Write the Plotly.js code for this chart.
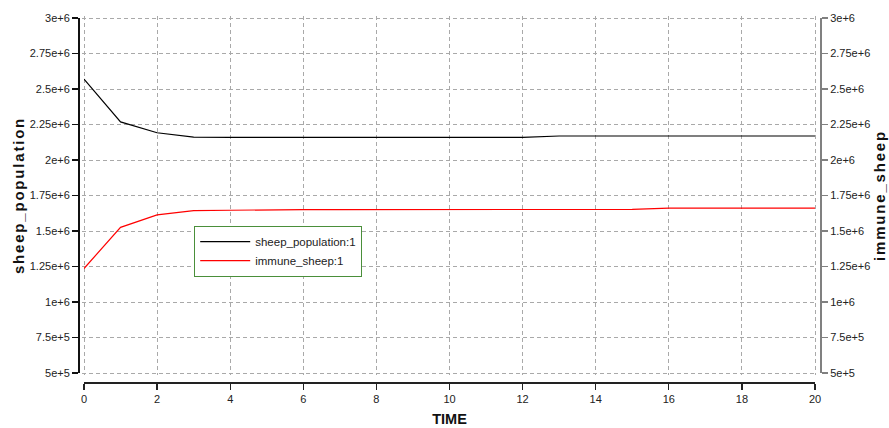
<!DOCTYPE html>
<html><head><meta charset="utf-8">
<script src="https://cdn.plot.ly/plotly-3.0.1.min.js"></script>
<style>
html,body{margin:0;padding:0;background:#fff;}
#chart{width:889px;height:428px;}
.y2title,.y3title{letter-spacing:1.8px;}
</style></head><body><div id="chart"></div>
<script>
const time = [0,1,2,3,4,5,6,7,8,9,10,11,12,13,14,15,16,17,18,19,20];
const sheepPopulation = [2570000,2268000,2192000,2161000,2160000,2160000,2160000,2160000,2160000,2160000,2160000,2160000,2160000,2169000,2169000,2169000,2169000,2169000,2169000,2169000,2169000];
const immuneSheep = [1236000,1526000,1613000,1643000,1646000,1650000,1651000,1651000,1651000,1651000,1651000,1651000,1651000,1652000,1652000,1652000,1661000,1661000,1661000,1661000,1661000];
const xTickVals = [0,2,4,6,8,10,12,14,16,18,20];
const yTickVals = [500000,750000,1000000,1250000,1500000,1750000,2000000,2250000,2500000,2750000,3000000];
const yTickText = ['5e+5','7.5e+5','1e+6','1.25e+6','1.5e+6','1.75e+6','2e+6','2.25e+6','2.5e+6','2.75e+6','3e+6'];
const seriesNames = ['sheep_population:1','immune_sheep:1'];

const sans = '"Liberation Sans", Arial, sans-serif';

// pixel geometry of the plot box
const W = 889, H = 428, L = 78, R = 68, T = 14, B = 46;
const pw = W - L - R, ph = H - T - B;
const gx0 = 84, gx1 = 815, gy0 = 18, gy1 = 373;     // exact data box
const ext = 2;                                       // grid box extension (px)
const xSpan = xTickVals[xTickVals.length-1] - xTickVals[0];
const ySpan = yTickVals[yTickVals.length-1] - yTickVals[0];
const xpp = xSpan / (gx1 - gx0), ypp = ySpan / (gy1 - gy0);

const xDomExact = [(gx0 - L) / pw, (gx1 - L) / pw];
const yDomExact = [(T + ph - gy1) / ph, (T + ph - gy0) / ph];
const xDomGrid = [(gx0 - ext - L) / pw, (gx1 + ext - L) / pw];
const yDomGrid = [(T + ph - gy1 - ext) / ph, (T + ph - gy0 + ext) / ph];
const xRangeExact = [xTickVals[0], xTickVals[xTickVals.length-1]];
const yRangeExact = [yTickVals[0], yTickVals[yTickVals.length-1]];
const xRangeGrid = [xRangeExact[0] - ext*xpp, xRangeExact[1] + ext*xpp];
const yRangeGrid = [yRangeExact[0] - ext*ypp, yRangeExact[1] + ext*ypp];

const traces = [
  {x: time, y: sheepPopulation, name: seriesNames[0], type: 'scatter', mode: 'lines',
   line: {color: '#000000', width: 1.2}, xaxis: 'x2', yaxis: 'y2'},
  {x: time, y: immuneSheep, name: seriesNames[1], type: 'scatter', mode: 'lines',
   line: {color: '#ff0000', width: 1.2}, xaxis: 'x2', yaxis: 'y3'},
  {x: [], y: [], xaxis: 'x', yaxis: 'y', showlegend: false, hoverinfo: 'skip', type: 'scatter', mode: 'lines'}
];

const tickFont = {family: sans, size: 11, color: '#222'};
const layout = {
  width: W, height: H,
  margin: {l: L, r: R, t: T, b: B, autoexpand: false},
  paper_bgcolor: '#ffffff', plot_bgcolor: 'rgba(0,0,0,0)',
  showlegend: true,
  xaxis: {domain: xDomGrid, range: xRangeGrid, anchor: 'y', showgrid: true, tickmode: 'array', tickvals: xTickVals,
          gridcolor: '#a9a9a9', gridwidth: 1, griddash: '4px,3px', showticklabels: false, ticks: '',
          showline: false, zeroline: false, fixedrange: true},
  yaxis: {domain: yDomGrid, range: yRangeGrid, anchor: 'x', showgrid: true, tickmode: 'array', tickvals: yTickVals,
          gridcolor: '#a9a9a9', gridwidth: 1, griddash: '4px,3px', showticklabels: false, ticks: '',
          showline: false, zeroline: false, fixedrange: true},
  xaxis2: {domain: xDomExact, range: xRangeExact, anchor: 'free', position: 0, side: 'bottom',
           tickmode: 'array', tickvals: xTickVals, showgrid: false, zeroline: false,
           showline: true, linecolor: '#222', linewidth: 1.5, ticks: 'outside', ticklen: 6, tickwidth: 1.3, tickcolor: '#222',
           tickfont: tickFont, automargin: true,
           title: {text: 'TIME', font: {family: sans, size: 14.5, weight: 'bold', color: '#111'}, standoff: 10}},
  yaxis2: {domain: yDomExact, range: yRangeExact, anchor: 'free', position: 0, side: 'left',
           tickmode: 'array', tickvals: yTickVals, ticktext: yTickText, showgrid: false, zeroline: false,
           showline: true, linecolor: '#111', linewidth: 1.5, ticks: 'outside', ticklen: 6, tickwidth: 1.3, tickcolor: '#111',
           tickfont: tickFont, automargin: true,
           title: {text: 'sheep_population', font: {family: sans, size: 15, weight: 'bold', color: '#111'}, standoff: 0}},
  yaxis3: {domain: yDomExact, range: yRangeExact, anchor: 'free', position: 1, side: 'right', overlaying: 'y2',
           tickmode: 'array', tickvals: yTickVals, ticktext: yTickText, showgrid: false, zeroline: false,
           showline: true, linecolor: '#808080', linewidth: 2, ticks: 'outside', ticklen: 6, tickwidth: 1.3, tickcolor: '#808080',
           tickfont: tickFont, automargin: true,
           title: {text: 'immune_sheep', font: {family: sans, size: 15, weight: 'bold', color: '#111'}, standoff: 4}},
  legend: {x: (194 - L) / pw, y: (T + ph - 226) / ph, xanchor: 'left', yanchor: 'top',
           bgcolor: '#ffffff', bordercolor: '#4a8f3a', borderwidth: 1.2,
           font: {family: sans, size: 11.5, color: '#222'}, itemwidth: 50, tracegroupgap: 0}
};

Plotly.newPlot('chart', traces, layout, {displayModeBar: false, staticPlot: true});
</script></body></html>
